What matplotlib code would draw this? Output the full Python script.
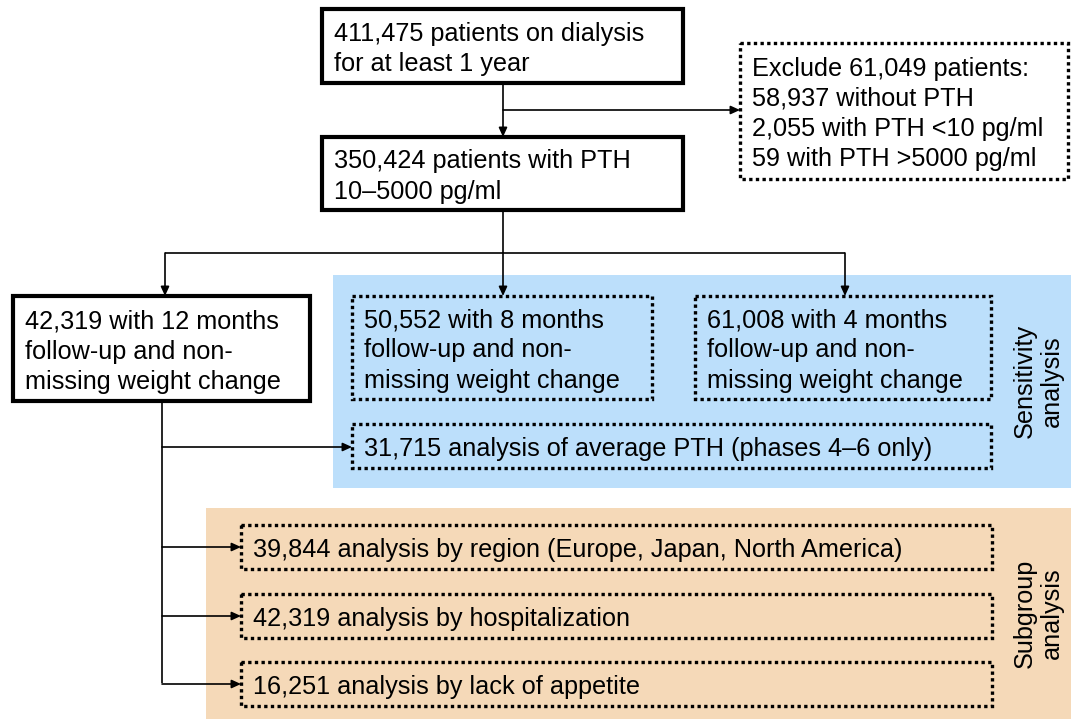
"""
Flowchart of the dialysis cohort: selection of patients and the
sensitivity / subgroup analyses that were run on it.
"""

import matplotlib.pyplot as plt
from matplotlib.patches import Rectangle

plt.rcParams['font.family'] = ['Liberation Sans', 'DejaVu Sans']

# texts of the boxes
main_texts = ['411,475 patients on dialysis\nfor at least 1 year',
              '350,424 patients with PTH\n10\u20135000 pg/ml',
              '42,319 with 12 months\nfollow-up and non-\nmissing weight change']
exclude_text = ('Exclude 61,049 patients:\n58,937 without PTH\n'
                '2,055 with PTH <10 pg/ml\n59 with PTH >5000 pg/ml')
sens_texts = ['50,552 with 8 months\nfollow-up and non-\nmissing weight change',
              '61,008 with 4 months\nfollow-up and non-\nmissing weight change',
              '31,715 analysis of average PTH (phases 4\u20136 only)']
sub_texts = ['39,844 analysis by region (Europe, Japan, North America)',
             '42,319 analysis by hospitalization',
             '16,251 analysis by lack of appetite']
side_labels = ['Sensitivity\nanalysis', 'Subgroup\nanalysis']

blue = '#bcdffb'
peach = '#f5d9b8'
fs = 18.2

fig = plt.figure(figsize=(10.71, 7.19), dpi=100)
ax = fig.add_axes([0, 0, 1, 1])
ax.set_xlim(0, 1071)
ax.set_ylim(719, 0)
ax.axis('off')


def box(x0, y0, x1, y1, text, dotted=False):
    if dotted:
        r = Rectangle((x0, y0), x1 - x0, y1 - y0, fill=False, lw=2.4,
                      ls=(0, (1, 1.0)), ec='black', zorder=3)
    else:
        r = Rectangle((x0, y0), x1 - x0, y1 - y0, fc='white', lw=3,
                      ec='black', zorder=3)
    ax.add_patch(r)
    ax.text(x0 + 12, (y0 + y1) / 2 + 3, text, ha='left', va='center',
            fontsize=fs, linespacing=1.33, zorder=4)


def line(xs, ys):
    ax.plot(xs, ys, color='black', lw=1.2, solid_capstyle='butt', zorder=2)


def arrow(x0, y0, x1, y1):
    ax.annotate('', xy=(x1, y1), xytext=(x0, y0),
                arrowprops=dict(arrowstyle='-|>,head_length=0.55,head_width=0.25',
                                color='black', lw=1.2, shrinkA=0, shrinkB=0),
                zorder=2)


# shaded regions
ax.add_patch(Rectangle((333, 275), 738, 213, fc=blue, ec='none', zorder=0))
ax.add_patch(Rectangle((206, 508), 865, 211, fc=peach, ec='none', zorder=0))

# main boxes
box(322, 9, 683, 83, main_texts[0])
box(322, 137, 683, 210, main_texts[1])
box(13, 296, 310, 401, main_texts[2])
box(740, 43, 1068, 179, exclude_text, dotted=True)

# sensitivity boxes
box(352, 296, 652, 399, sens_texts[0], dotted=True)
box(695, 296, 991, 399, sens_texts[1], dotted=True)
box(352, 424, 991, 468, sens_texts[2], dotted=True)

# subgroup boxes
sub_y = [(525, 569), (594, 638), (662, 706)]
for (y0, y1), t in zip(sub_y, sub_texts):
    box(241, y0, 992, y1, t, dotted=True)

# side labels
ax.text(1038, 381, side_labels[0], rotation=90, ha='center', va='center',
        fontsize=fs, linespacing=1.15)
ax.text(1038, 613, side_labels[1], rotation=90, ha='center', va='center',
        fontsize=fs, linespacing=1.15)

# connectors
arrow(503, 83, 503, 137)
arrow(503, 110, 740, 110)
line([503, 503], [210, 253])
line([165, 845], [253, 253])
arrow(165, 253, 165, 296)
arrow(503, 253, 503, 296)
arrow(845, 253, 845, 296)
line([162, 162], [401, 683])
arrow(162, 447, 352, 447)
for (y0, y1) in sub_y:
    arrow(162, (y0 + y1) / 2, 241, (y0 + y1) / 2)

fig.savefig('out.png', dpi=100)
